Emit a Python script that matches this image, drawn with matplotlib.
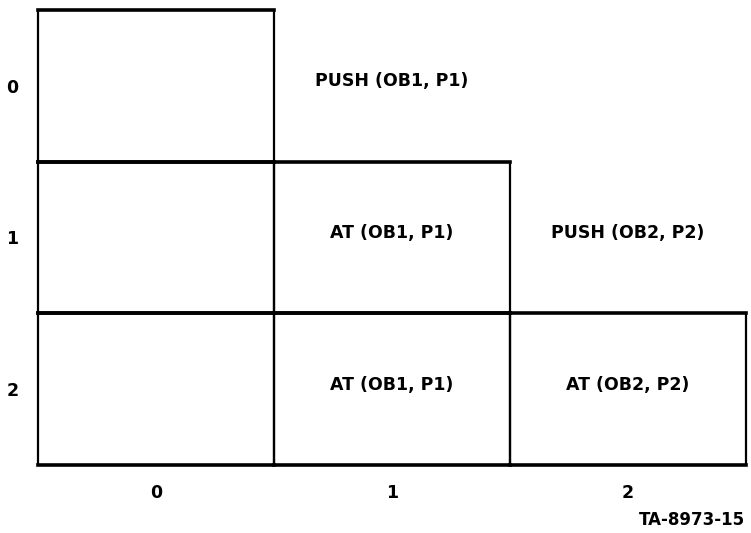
import matplotlib.pyplot as plt

# grid layout of the diagram
row_labels = ['0', '1', '2']
col_labels = ['0', '1', '2']

# cells that get a box drawn around them (row, col)
box_rows = [0, 1, 1, 2, 2, 2]
box_cols = [0, 0, 1, 0, 1, 2]

# text placed in cells
text_rows = [0, 1, 1, 2, 2]
text_cols = [1, 1, 2, 1, 2]
text_values = ['PUSH (OB1, P1)', 'AT (OB1, P1)', 'PUSH (OB2, P2)',
               'AT (OB1, P1)', 'AT (OB2, P2)']

plt.rcParams['font.family'] = ['DejaVu Sans']

fig = plt.figure(figsize=(7.51, 5.33), dpi=100)
ax = fig.add_axes([38 / 751, 1 - 465 / 533, 708 / 751, 455 / 533])
ax.set_xlim(-0.5, 2.5)
ax.set_ylim(2.5, -0.5)

# horizontal edges drawn heavier than vertical ones, like the scan
for r, c in zip(box_rows, box_cols):
    ax.hlines([r - 0.5, r + 0.5], c - 0.5, c + 0.5, color='black',
              linewidth=2.6, clip_on=False, capstyle='projecting')
    ax.vlines([c - 0.5, c + 0.5], r - 0.5, r + 0.5, color='black',
              linewidth=1.6, clip_on=False)

for r, c, t in zip(text_rows, text_cols, text_values):
    ax.text(c, r - 0.03, t, ha='center', va='center', fontsize=12.5,
            fontweight='bold')

ax.set_xticks(range(len(col_labels)))
ax.set_xticklabels(col_labels, fontsize=12.5, fontweight='bold')
ax.set_yticks(range(len(row_labels)))
ax.set_yticklabels(row_labels, fontsize=12.5, fontweight='bold')
ax.tick_params(length=0)
ax.tick_params(axis='x', pad=14)
ax.tick_params(axis='y', pad=14)
for s in ax.spines.values():
    s.set_visible(False)

fig.text(745 / 751, 1 - 520 / 533, 'TA-8973-15', ha='right', va='center',
         fontsize=12, fontweight='bold')

fig.savefig('out.png', dpi=100)
